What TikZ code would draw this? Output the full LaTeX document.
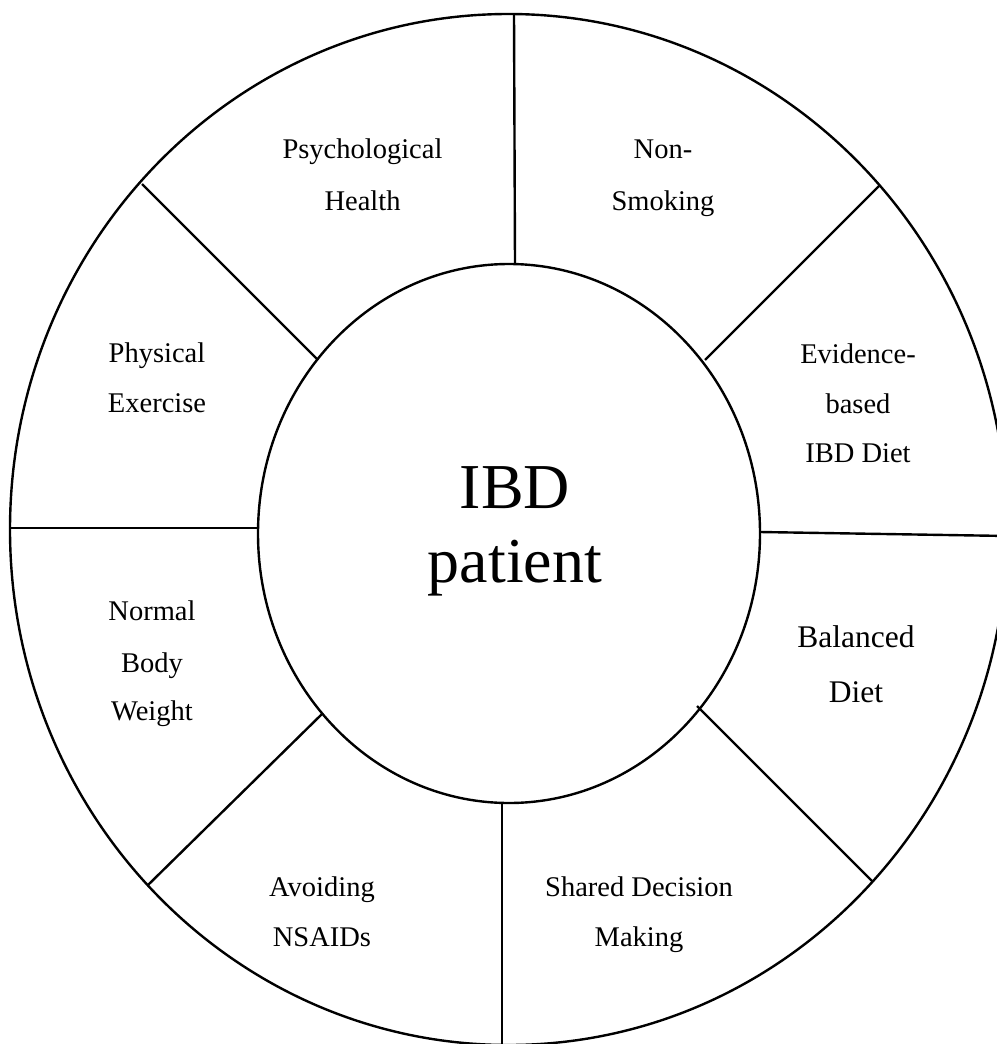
\documentclass[tikz,border=0pt]{standalone}
\usepackage{fontspec}
\setmainfont{Liberation Serif}
\usetikzlibrary{shapes.geometric}
\tikzset{
  ring/.style={ellipse, draw, line width=2.4pt, inner sep=0pt, outer sep=0pt},
  spoke/.style={line width=2.4pt},
  lbl/.style={anchor=base, inner sep=0pt, font=\fontsize{28.5}{34}\selectfont},
  biglbl/.style={anchor=base, inner sep=0pt, font=\fontsize{31.5}{38}\selectfont},
  hub/.style={anchor=base, inner sep=0pt, font=\fontsize{64}{74}\selectfont}
}
\begin{document}
\begin{tikzpicture}[x=1pt,y=-1pt]
\useasboundingbox (0,0) rectangle (996,1044);
\node[ring, minimum width=997pt, minimum height=1031pt] (outer) at (508.5,529.5) {};
\node[ring, minimum width=502pt, minimum height=539pt] (inner) at (509,533.5) {};
% spoke end points
\coordinate (o1) at (514,14);   \coordinate (i1) at (515,264);
\coordinate (o2) at (880,185);  \coordinate (i2) at (705,360);
\coordinate (o3) at (1008,536); \coordinate (i3) at (760,532);
\coordinate (o4) at (873,882);  \coordinate (i4) at (697,706);
\coordinate (o5) at (502,1046); \coordinate (i5) at (502,803);
\coordinate (o6) at (148,885);  \coordinate (i6) at (322,714);
\coordinate (o7) at (10,528);   \coordinate (i7) at (258,528);
\coordinate (o8) at (142,184);  \coordinate (i8) at (318,360);
\foreach \k in {1,...,8} {\draw[spoke] (o\k) -- (i\k);}
% hub text
\node[hub] (hubA) at (515,508) {IBD};
\node[hub] (hubB) at (515,582) {patient};
% labels
\node[lbl] (psyA) at (362.5,158) {Psychological};
\node[lbl] (psyB) at (362.5,210) {Health};
\node[lbl] (smkA) at (663,158) {Non-};
\node[lbl] (smkB) at (663,210) {Smoking};
\node[lbl] (evdA) at (858,363) {Evidence-};
\node[lbl] (evdB) at (858,413) {based};
\node[lbl] (evdC) at (858,462) {IBD Diet};
\node[lbl] (phyA) at (157,362) {Physical};
\node[lbl] (phyB) at (157,412) {Exercise};
\node[biglbl] (balA) at (856,647) {Balanced};
\node[biglbl] (balB) at (856,702) {Diet};
\node[lbl] (nbwA) at (152,620) {Normal};
\node[lbl] (nbwB) at (152,672) {Body};
\node[lbl] (nbwC) at (152,720) {Weight};
\node[lbl] (nsaA) at (322,896) {Avoiding};
\node[lbl] (nsaB) at (322,946) {NSAIDs};
\node[lbl] (sdmA) at (639,896) {Shared Decision};
\node[lbl] (sdmB) at (639,946) {Making};
\end{tikzpicture}
\end{document}
